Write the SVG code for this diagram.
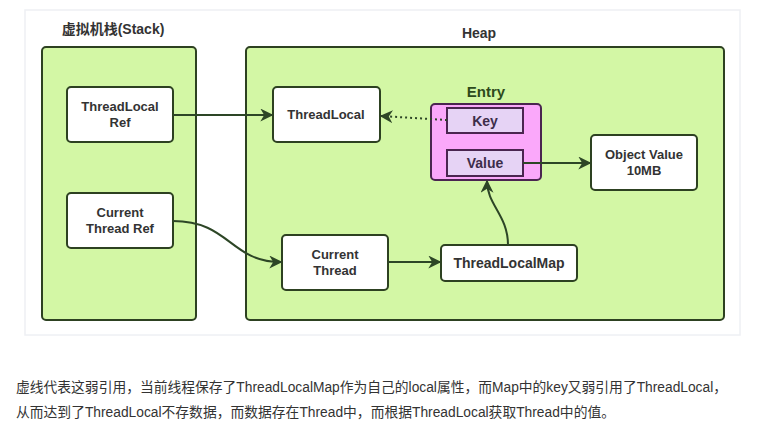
<svg xmlns="http://www.w3.org/2000/svg" width="768" height="427" viewBox="0 0 768 427">
<style>
.t{font-family:"Liberation Sans","Noto Sans CJK SC",sans-serif;font-weight:bold;font-size:13px;fill:#333;text-anchor:middle}
.area{fill:#d3f7a5;stroke:#2d4121;stroke-width:2}
.node{fill:#fff;stroke:#2d4121;stroke-width:2}
.sub{fill:#e6d3f5;stroke:#4a2550;stroke-width:2}
.edge{fill:none;stroke:#2d4626;stroke-width:2}
.cap{font-family:"Liberation Sans","Noto Sans CJK SC",sans-serif;font-size:14px;fill:#333}
</style>
<defs>
<marker id="ah" viewBox="0 0 10 10" refX="9" refY="5" markerWidth="6.5" markerHeight="6.5" orient="auto" markerUnits="strokeWidth">
<path d="M0,0 L10,5 L0,10 L3,5 z" fill="#2d4626"/>
</marker>
</defs>
<rect width="768" height="427" fill="#fff"/>
<rect x="25" y="10" width="715" height="325" fill="#fff" stroke="#eef0f4" stroke-width="1.5"/>
<g id="stack">
<rect class="area" x="42" y="47" width="154" height="273" rx="4"/>
<text class="t" x="113" y="34" style="font-size:14px">虚拟机栈(Stack)</text>
</g>
<g id="heap">
<rect class="area" x="246" y="47" width="478" height="273" rx="4"/>
<text class="t" x="479" y="38" style="font-size:14px">Heap</text>
</g>
<g id="threadlocal-ref">
<rect class="node" x="67" y="87" width="106" height="55" rx="4"/>
<text class="t" x="120" y="111">ThreadLocal</text>
<text class="t" x="120" y="127">Ref</text>
</g>
<g id="current-thread-ref">
<rect class="node" x="67" y="193" width="106" height="55" rx="4"/>
<text class="t" x="120" y="217">Current</text>
<text class="t" x="120" y="233">Thread Ref</text>
</g>
<g id="threadlocal">
<rect class="node" x="273" y="87" width="107" height="55" rx="4"/>
<text class="t" x="326" y="119">ThreadLocal</text>
</g>
<g id="entry">
<text class="t" x="486" y="97" style="fill:#2d4a1c;font-size:15px">Entry</text>
<rect x="431" y="104" width="110" height="76" rx="4" fill="#faa8fa" stroke="#4a2550" stroke-width="2"/>
</g>
<g id="key">
<rect class="sub" x="447" y="108" width="76" height="25"/>
<text class="t" x="485" y="126" style="fill:#3d2d4a;font-size:14px">Key</text>
</g>
<g id="value">
<rect class="sub" x="447" y="150" width="76" height="26"/>
<text class="t" x="485" y="168" style="fill:#3d2d4a;font-size:14px">Value</text>
</g>
<g id="object-value">
<rect class="node" x="591" y="135" width="106" height="55" rx="4"/>
<text class="t" x="644" y="159">Object Value</text>
<text class="t" x="644" y="175">10MB</text>
</g>
<g id="current-thread">
<rect class="node" x="282" y="235" width="106" height="55" rx="4"/>
<text class="t" x="335" y="259">Current</text>
<text class="t" x="335" y="275">Thread</text>
</g>
<g id="threadlocalmap">
<rect class="node" x="441" y="245" width="136" height="36" rx="4"/>
<text class="t" x="509" y="268" style="font-size:14px">ThreadLocalMap</text>
</g>
<g id="connectors">
<path class="edge" d="M173,115 L272,115" marker-end="url(#ah)"/>
<path class="edge" d="M447,120 L381,116" stroke-dasharray="2,3" marker-end="url(#ah)"/>
<path class="edge" d="M523,163 L590,163" marker-end="url(#ah)"/>
<path class="edge" d="M173,221 C230,221 230,262 281,262" marker-end="url(#ah)"/>
<path class="edge" d="M388,262 L440,262" marker-end="url(#ah)"/>
<path class="edge" d="M508,245 C508,215 487,205 487,181" marker-end="url(#ah)"/>
</g>
<text class="cap" x="16" y="392" textLength="711" lengthAdjust="spacingAndGlyphs">虚线代表这弱引用，当前线程保存了ThreadLocalMap作为自己的local属性，而Map中的key又弱引用了ThreadLocal，</text>
<text class="cap" x="16" y="417" textLength="599" lengthAdjust="spacingAndGlyphs">从而达到了ThreadLocal不存数据，而数据存在Thread中，而根据ThreadLocal获取Thread中的值。</text>
</svg>
